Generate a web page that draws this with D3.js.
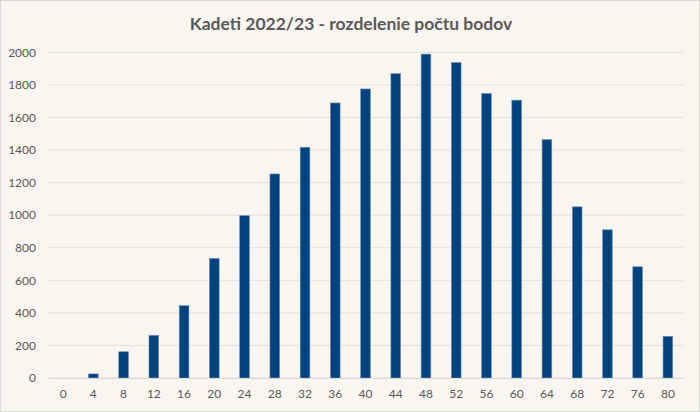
<!DOCTYPE html>
<html><head><meta charset="utf-8">
<script src="https://cdn.jsdelivr.net/npm/d3@7"></script>
<style>
html,body{margin:0;padding:0;background:#f9f5ef;}
svg{display:block;}
text{font-family:Lato,"Open Sans",sans-serif;}
</style></head>
<body>
<svg id="chart" width="700" height="412"></svg>
<script>
const title = "Kadeti 2022/23 - rozdelenie počtu bodov";
const categories = ["0","4","8","12","16","20","24","28","32","36","40","44","48","52","56","60","64","68","72","76","80"];
const counts = [0,25,161,262,444,734,997,1253,1417,1689,1775,1869,1989,1937,1747,1706,1464,1051,910,683,256];
const yTicks = [0,200,400,600,800,1000,1200,1400,1600,1800,2000];

const W = 700, H = 412;
const m = {left:48, right:17, top:52.3, bottom:34};
const svg = d3.select("#chart");
svg.append("rect").attr("x",0.5).attr("y",0.5).attr("width",W-1).attr("height",H-1)
  .attr("fill","#f9f5ef").attr("stroke","#d9d9d9");

const x = d3.scaleBand().domain(categories).range([m.left, W-m.right]).paddingInner(0.68).paddingOuter(0.34);
const y = d3.scaleLinear().domain([0,2000]).range([378, m.top]);

// gridlines
svg.append("g").selectAll("line").data(yTicks).join("line")
  .attr("x1",m.left).attr("x2",W-m.right)
  .attr("y1",d=>y(d)).attr("y2",d=>y(d))
  .attr("stroke","#e2deda").attr("stroke-width",1);

// y axis labels
const yAxis = d3.axisLeft(y).tickValues(yTicks).tickSize(0).tickPadding(12).tickFormat(d3.format("d"));
const gy = svg.append("g").attr("transform",`translate(${m.left},0)`).call(yAxis);
gy.select(".domain").remove();
gy.selectAll("text").attr("fill","#595959").style("font-size","12px");

// bars
svg.append("g").selectAll("rect").data(counts).join("rect")
  .attr("x",(d,i)=>x(categories[i]))
  .attr("width",x.bandwidth())
  .attr("y",d=>y(d))
  .attr("height",d=>y(0)-y(d))
  .attr("fill","#00437f")
  .attr("stroke","#6f8fb5").attr("stroke-width",0.6);

// x axis
const xAxis = d3.axisBottom(x).tickSize(0).tickPadding(11);
const gx = svg.append("g").attr("transform",`translate(0,${y(0)})`).call(xAxis);
gx.select(".domain").attr("stroke","#d9d9d9");
gx.selectAll("text").attr("fill","#595959").style("font-size","12px");

svg.append("text").attr("x",351).attr("y",30).attr("text-anchor","middle")
  .attr("fill","#595959").style("font-size","17.5px").style("font-weight","bold").text(title);
</script>
</body></html>
